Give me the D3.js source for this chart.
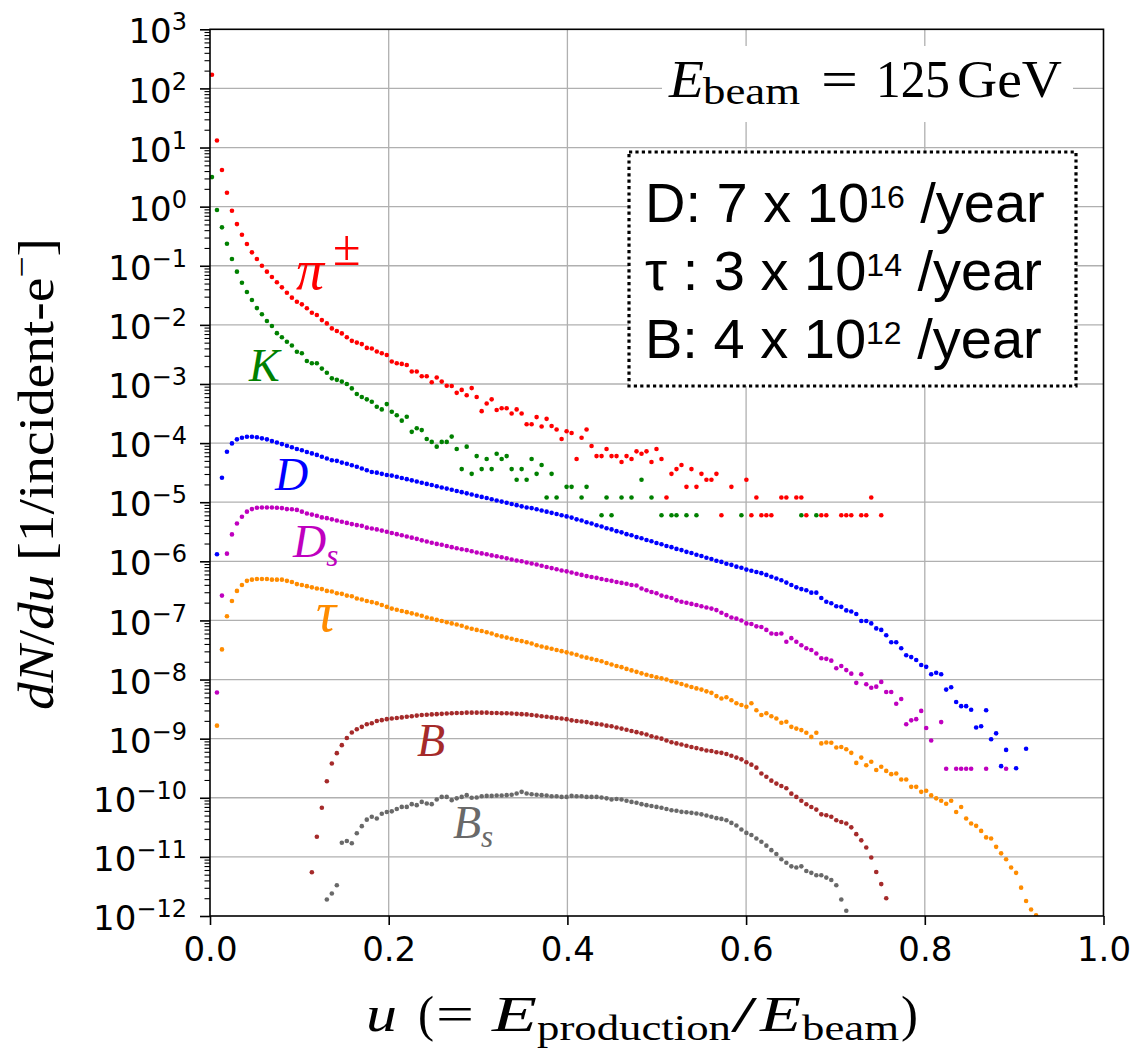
<!DOCTYPE html>
<html>
<head>
<meta charset="utf-8">
<script src="https://cdn.jsdelivr.net/npm/d3@7"></script>
<style>
  body { margin: 0; background: #fff; }
  svg { display: block; }
</style>
</head>
<body>
<svg id="chart" width="1138" height="1054"></svg>
<script>
// --- 1. Data ---
// histogram bins in u = E_production / E_beam
const binStart = 0.0022;
const binWidth = 0.00559;

// log10(dN/du) per bin, null = empty bin
const piStart = 0;
const piLog = [
  2.23, 1.12, 0.62, 0.235, -0.07, -0.295, -0.475, -0.633, -0.773, -0.887,
  -1.00, -1.10, -1.19, -1.28, -1.365, -1.457, -1.54, -1.61, -1.653, -1.72,
  -1.795, -1.834, -1.919, -1.975, -2.06, -2.105, -2.144, -2.21, -2.27, -2.30,
  -2.325, -2.39, -2.40, -2.45, -2.48, -2.51, -2.62, -2.65, -2.66, -2.68,
  -2.79, -2.79, -2.87, -2.87, -2.97, -2.89, -2.96, -3.03, -3.035, -3.15,
  -3.10, -3.19, -3.07, -3.22, -3.46, -3.33, -3.26, -3.44, -3.41, -3.41,
  -3.50, -3.43, -3.50, -3.68, -3.68, -3.56, -3.72, -3.59, -3.71, -3.77,
  -3.93, -3.80, -3.83, -4.27, -3.91, -3.77, -4.05, -4.22, -4.22, -4.10,
  -4.22, -4.22, -4.32, -4.22, -4.27, -4.14, -4.18, -4.14, -4.32, -4.10,
  -4.27, -4.92, -4.52, -4.44, -4.37, -4.74, -4.44, -4.74, -4.52, -4.62,
  -4.62, -4.52, -5.22, null, -4.74, null, null, -4.62, -5.22, -4.92,
  -5.22, -5.22, -5.22, null, -4.92, -4.92, null, -4.92, -4.92, -5.22,
  null, null, -5.22, -5.22, null, null, -5.22, -5.22, -5.22, null,
  -5.22, -5.22, -4.92, null, -5.22
];

const kStart = 0;
const kLog = [
  0.50, -0.058, -0.35, -0.628, -0.887, -1.10, -1.288, -1.445, -1.58, -1.716,
  -1.82, -1.935, -2.02, -2.14, -2.21, -2.285, -2.35, -2.455, -2.48, -2.61,
  -2.65, -2.65, -2.74, -2.81, -2.905, -2.93, -2.96, -3.00, -3.075, -3.17,
  -3.22, -3.26, -3.30, -3.385, -3.43, -3.34, -3.47, -3.53, -3.62, -3.555,
  -3.81, -3.75, -3.78, -3.93, -3.98, -4.06, -3.98, -3.98, -3.89, -4.10,
  -4.44, -4.06, -4.52, -4.22, -4.44, -4.27, -4.44, -4.18, -4.27, -4.22,
  -4.44, -4.62, -4.44, -4.62, -4.27, -4.52, -4.37, -4.92, -4.52, -4.92,
  null, -4.74, -4.74, null, -4.92, -4.74, null, null, -5.22, -4.92,
  -5.22, null, -4.92, null, -4.92, null, -4.62, null, -4.92, null,
  -5.22, null, -5.22, -5.22, null, -5.22, null, -5.22, null, null,
  null, null, null, null, null, null, -5.22, null, null, null,
  null, null, null, null, null, null, null, null, -5.22, null,
  null, -5.22
];

const dStart = 1;
const dLog = [
  -5.88, -4.587, -4.147, -4.005, -3.937, -3.91, -3.893, -3.893, -3.90, -3.92,
  -3.937, -3.966, -3.99, -4.017, -4.045, -4.07, -4.10, -4.12, -4.15, -4.174,
  -4.20, -4.23, -4.26, -4.29, -4.30, -4.33, -4.35, -4.375, -4.40, -4.43,
  -4.46, -4.49, -4.50, -4.52, -4.54, -4.55, -4.57, -4.59, -4.61, -4.63,
  -4.65, -4.67, -4.69, -4.71, -4.73, -4.75, -4.77, -4.79, -4.81, -4.83,
  -4.85, -4.87, -4.89, -4.91, -4.93, -4.95, -4.97, -4.99, -5.01, -5.03,
  -5.05, -5.07, -5.09, -5.10, -5.12, -5.14, -5.16, -5.18, -5.20, -5.22,
  -5.24, -5.26, -5.29, -5.31, -5.34, -5.36, -5.39, -5.41, -5.44, -5.46,
  -5.49, -5.51, -5.54, -5.56, -5.59, -5.61, -5.64, -5.66, -5.69, -5.71,
  -5.74, -5.76, -5.79, -5.81, -5.84, -5.86, -5.89, -5.91, -5.94, -5.96,
  -5.99, -6.01, -6.04, -6.06, -6.09, -6.11, -6.14, -6.16, -6.18, -6.20,
  -6.23, -6.26, -6.29, -6.32, -6.36, -6.40, -6.44, -6.47, -6.49, -6.53,
  -6.53, -6.62, -6.685, -6.71, -6.76, -6.77, -6.83, -6.85, -6.89, -7.01,
  -7.01, -7.05, -7.135, -7.16, -7.25, -7.37, -7.37, -7.47, -7.59, -7.62,
  -7.67, -7.755, -7.785, -7.91, -7.885, -7.91, -8.17, -8.13, -8.38, -8.45,
  -8.45, -8.51, -8.81, -8.79, -8.52, -9.01, -8.91, -9.465, -9.19, null,
  -9.50, null, -9.17
];

const dsStart = 1;
const dsLog = [
  -8.22, -6.58, -5.87, -5.545, -5.36, -5.247, -5.16, -5.117, -5.095, -5.09,
  -5.09, -5.09, -5.095, -5.10, -5.117, -5.12, -5.13, -5.16, -5.19, -5.21,
  -5.23, -5.257, -5.27, -5.29, -5.31, -5.33, -5.35, -5.37, -5.387, -5.40,
  -5.43, -5.445, -5.46, -5.48, -5.50, -5.52, -5.54, -5.56, -5.58, -5.60,
  -5.62, -5.645, -5.665, -5.687, -5.705, -5.72, -5.74, -5.76, -5.78, -5.795,
  -5.81, -5.83, -5.85, -5.866, -5.88, -5.90, -5.915, -5.93, -5.95, -5.97,
  -5.985, -6.00, -6.02, -6.036, -6.055, -6.075, -6.095, -6.115, -6.135, -6.155,
  -6.17, -6.19, -6.21, -6.23, -6.25, -6.265, -6.28, -6.30, -6.315, -6.33,
  -6.35, -6.365, -6.38, -6.40, -6.41, -6.46, -6.49, -6.52, -6.54, -6.58,
  -6.60, -6.62, -6.66, -6.685, -6.70, -6.72, -6.74, -6.76, -6.78, -6.80,
  -6.825, -6.87, -6.91, -6.95, -6.97, -7.00, -7.05, -7.06, -7.10, -7.11,
  -7.16, -7.22, -7.23, -7.22, -7.36, -7.30, -7.36, -7.42, -7.47, -7.50,
  -7.56, -7.64, -7.65, -7.68, -7.81, -7.77, -7.84, -7.90, -8.056, -7.91,
  -8.08, -8.14, -8.12, -8.04, -8.21, -8.21, -8.41, -8.33, -8.755, -8.69,
  -8.67, -8.53, -8.82, -9.03, null, -8.72, -9.51, null, -9.51, -9.51,
  -9.51, -9.51, null, null, -9.51, null, null, null, -9.51
];

const tauStart = 1;
const tauLog = [
  -8.78, -7.49, -6.93, -6.67, -6.50, -6.40, -6.33, -6.31, -6.30, -6.30,
  -6.30, -6.31, -6.31, -6.31, -6.33, -6.35, -6.385, -6.40, -6.42, -6.44,
  -6.46, -6.47, -6.50, -6.51, -6.54, -6.55, -6.58, -6.59, -6.63, -6.645,
  -6.67, -6.69, -6.71, -6.74, -6.77, -6.80, -6.82, -6.84, -6.86, -6.88,
  -6.90, -6.92, -6.95, -6.97, -6.99, -7.01, -7.03, -7.05, -7.07, -7.09,
  -7.12, -7.14, -7.16, -7.18, -7.20, -7.22, -7.25, -7.27, -7.29, -7.31,
  -7.33, -7.35, -7.37, -7.39, -7.42, -7.44, -7.46, -7.48, -7.50, -7.52,
  -7.54, -7.56, -7.58, -7.61, -7.63, -7.65, -7.67, -7.69, -7.72, -7.745,
  -7.77, -7.79, -7.82, -7.845, -7.87, -7.895, -7.92, -7.94, -7.96, -7.98,
  -8.00, -8.03, -8.05, -8.075, -8.10, -8.125, -8.15, -8.17, -8.20, -8.225,
  -8.28, -8.32, -8.30, -8.35, -8.40, -8.43, -8.46, -8.40, -8.52, -8.60,
  -8.57, -8.62, -8.66, -8.73, -8.715, -8.80, -8.83, -8.855, -8.90, -8.97,
  -8.90, -9.08, -9.065, -9.07, -9.15, -9.14, -9.18, -9.24, -9.41, -9.32,
  -9.45, -9.39, -9.53, -9.475, -9.545, -9.60, -9.59, -9.69, -9.69, -9.815,
  -9.815, -9.90, -9.88, -9.96, -10.01, -10.05, -10.10, -10.05, -10.24, -10.155,
  -10.35, -10.435, -10.475, -10.56, -10.67, -10.69, -10.83, -10.94, -11.04, -11.18,
  -11.27, -11.52, -11.745, -11.89, -11.99
];

const bStart = 20;
const bLog = [
  -11.26, -10.66, -10.17, -9.72, -9.42, -9.245, -9.11, -8.99, -8.895, -8.84,
  -8.80, -8.755, -8.74, -8.70, -8.687, -8.67, -8.66, -8.65, -8.64, -8.63,
  -8.62, -8.61, -8.60, -8.595, -8.59, -8.585, -8.58, -8.575, -8.57, -8.565,
  -8.565, -8.56, -8.56, -8.56, -8.56, -8.56, -8.565, -8.565, -8.57, -8.57,
  -8.575, -8.58, -8.585, -8.59, -8.60, -8.61, -8.62, -8.63, -8.64, -8.65,
  -8.66, -8.67, -8.69, -8.70, -8.71, -8.72, -8.74, -8.75, -8.76, -8.78,
  -8.79, -8.81, -8.83, -8.85, -8.87, -8.89, -8.91, -8.93, -8.96, -8.98,
  -9.00, -9.03, -9.06, -9.08, -9.10, -9.12, -9.14, -9.16, -9.18, -9.20,
  -9.21, -9.23, -9.24, -9.26, -9.29, -9.32, -9.35, -9.40, -9.44, -9.49,
  -9.59, -9.645, -9.71, -9.76, -9.80, -9.84, -9.93, -9.985, -10.05, -10.11,
  -10.155, -10.20, -10.28, -10.295, -10.32, -10.38, -10.41, -10.435, -10.50, -10.615,
  -10.72, -10.84, -11.01, -11.255, -11.46, -11.70
];

const bsStart = 23;
const bsLog = [
  -11.72, -11.62, -11.48, -10.76, -10.73, -10.77, -10.60, -10.48, -10.37, -10.32,
  -10.35, -10.27, -10.24, -10.23, -10.19, -10.154, -10.154, -10.108, -10.125, -10.07,
  -10.097, -10.108, -10.03, -9.985, -9.985, -10.04, -10.01, -9.985, -9.956, -10.00,
  -9.995, -9.973, -9.968, -9.968, -9.962, -9.962, -9.956, -9.95, -9.927, -9.90,
  -9.927, -9.94, -9.95, -9.956, -9.962, -9.973, -9.973, -9.985, -9.985, -9.968,
  -9.973, -9.973, -9.985, -9.985, -9.985, -9.995, -10.01, -10.03, -10.02, -10.03,
  -10.05, -10.07, -10.085, -10.108, -10.125, -10.14, -10.154, -10.17, -10.19, -10.21,
  -10.22, -10.238, -10.245, -10.255, -10.266, -10.28, -10.30, -10.32, -10.345, -10.357,
  -10.38, -10.425, -10.47, -10.536, -10.594, -10.63, -10.69, -10.745, -10.81, -10.886,
  -10.95, -11.04, -11.10, -11.16, -11.18, -11.16, -11.24, -11.27, -11.31, -11.31,
  -11.35, -11.39, -11.48, -11.72, -11.91
];

const xTicks = [0, 0.2, 0.4, 0.6, 0.8, 1.0];
const yExponents = [-12, -11, -10, -9, -8, -7, -6, -5, -4, -3, -2, -1, 0, 1, 2, 3];

const rateLines = [
  { head: "D: 7 x 10", exp: "16", tail: " /year" },
  { head: "\u03c4 : 3 x 10", exp: "14", tail: " /year" },
  { head: "B: 4 x 10", exp: "12", tail: " /year" }
];

// --- 2. Setup ---
const margin = { top: 29.3, right: 34.5, bottom: 138, left: 210 };
const W = 1138, H = 1054;
const width = W - margin.left - margin.right;
const height = H - margin.top - margin.bottom;

const svg = d3.select("#chart");
svg.append("rect").attr("width", W).attr("height", H).attr("fill", "#fff");

const g = svg.append("g").attr("transform", `translate(${margin.left},${margin.top})`);

// --- 3. Scales ---
const x = d3.scaleLinear().domain([0, 1]).range([0, width]);
const y = d3.scaleLog().domain([1e-12, 1e3]).range([height, 0]);

const series = [
  { start: piStart, logs: piLog, color: "#ff0000" },
  { start: kStart, logs: kLog, color: "#008000" },
  { start: dStart, logs: dLog, color: "#0000ff" },
  { start: dsStart, logs: dsLog, color: "#bf00bf" },
  { start: tauStart, logs: tauLog, color: "#ff8c00" },
  { start: bStart, logs: bLog, color: "#a52a2a" },
  { start: bsStart, logs: bsLog, color: "#696969" }
];

// --- 4. Grid ---
const grid = g.append("g").attr("stroke", "#b0b0b0").attr("stroke-width", 1.3);
grid.selectAll(".vg").data(xTicks.slice(1, -1)).join("line")
  .attr("x1", d => x(d)).attr("x2", d => x(d))
  .attr("y1", 0).attr("y2", height);
grid.selectAll(".hg").data(yExponents.slice(1, -1)).join("line")
  .attr("x1", 0).attr("x2", width)
  .attr("y1", d => y(Math.pow(10, d))).attr("y2", d => y(Math.pow(10, d)));

// --- 5. Points ---
svg.append("clipPath").attr("id", "plotclip")
  .append("rect").attr("x", -3).attr("y", -3).attr("width", width + 6).attr("height", height + 3);

const pts = g.append("g").attr("clip-path", "url(#plotclip)");
series.forEach(s => {
  const data = s.logs
    .map((v, i) => v === null ? null : { u: binStart + (s.start + i) * binWidth, val: Math.pow(10, v) })
    .filter(d => d);
  pts.append("g").selectAll("circle")
    .data(data)
    .join("circle")
    .attr("cx", d => x(d.u))
    .attr("cy", d => y(d.val))
    .attr("r", 2.3)
    .attr("fill", s.color);
});

// --- 6. Axes ---
const tickFont = "'DejaVu Sans', sans-serif";

const xAxis = g.append("g")
  .attr("transform", `translate(0,${height})`)
  .call(d3.axisBottom(x).tickValues(xTicks).tickFormat(d3.format(".1f")).tickSize(9).tickPadding(12));
xAxis.select(".domain").remove();
xAxis.selectAll("line").attr("stroke", "#000").attr("stroke-width", 1.6);
xAxis.selectAll("text").attr("font-family", tickFont).attr("font-size", 34).attr("fill", "#000");

const minorVals = [];
yExponents.slice(0, -1).forEach(e => {
  [2, 3, 4, 5, 6, 7, 8, 9].forEach(m => minorVals.push(m * Math.pow(10, e)));
});
const yMinor = g.append("g")
  .call(d3.axisLeft(y).tickValues(minorVals).tickFormat("").tickSize(5.5));
yMinor.select(".domain").remove();
yMinor.selectAll("line").attr("stroke", "#000").attr("stroke-width", 1.1);

const yAxis = g.append("g")
  .call(d3.axisLeft(y).tickValues(yExponents.map(e => Math.pow(10, e))).tickSize(10).tickPadding(13));
yAxis.select(".domain").remove();
yAxis.selectAll("line").attr("stroke", "#000").attr("stroke-width", 1.6);
yAxis.selectAll(".tick text")
  .attr("font-family", tickFont).attr("font-size", 34).attr("fill", "#000")
  .attr("dy", "0.4em")
  .each(function (d) {
    const e = Math.round(Math.log10(d));
    const t = d3.select(this).text(null);
    t.append("tspan").text("10");
    t.append("tspan").attr("font-size", 24).attr("dy", -13)
      .text(e < 0 ? "\u2212" + (-e) : String(e));
  });

// frame
g.append("rect").attr("width", width).attr("height", height)
  .attr("fill", "none").attr("stroke", "#000").attr("stroke-width", 1.6);

// --- 7. Curve labels ---
const serif = "'Liberation Serif', 'Times New Roman', serif";
function curveLabel(px, py, color, size, main, sub, sup, supSize) {
  const t = g.append("text")
    .attr("x", px - margin.left).attr("y", py - margin.top)
    .attr("fill", color).attr("font-family", serif)
    .attr("font-style", "italic").attr("font-size", size);
  t.append("tspan").text(main);
  if (sub) t.append("tspan").attr("font-size", size * 0.68).attr("dy", size * 0.2).text(sub);
  if (sup) t.append("tspan").attr("font-style", "normal").attr("font-size", supSize)
    .attr("dx", 9).attr("dy", -size * 0.43).text(sup);
}
curveLabel(296, 289, "#ff0000", 56, "\u03c0", null, "\u00b1", 50);
curveLabel(249, 381, "#008000", 46, "K");
curveLabel(275, 490, "#0000ff", 46, "D");
curveLabel(293, 557, "#bf00bf", 46, "D", "s");
curveLabel(316, 631, "#ff8c00", 56, "\u03c4");
curveLabel(417, 756, "#a52a2a", 46, "B");
curveLabel(453, 838, "#696969", 46, "B", "s");

// text pieces stretched to the widths seen in the figure
function piece(parent, txt, px, py, len, size, italic) {
  parent.append("text")
    .attr("x", px).attr("y", py)
    .attr("font-size", size)
    .attr("font-style", italic ? "italic" : "normal")
    .attr("textLength", len).attr("lengthAdjust", "spacingAndGlyphs")
    .text(txt);
}

// --- 8. Beam energy note ---
svg.append("rect").attr("x", 662).attr("y", 46).attr("width", 411).attr("height", 76).attr("fill", "#fff");
const beam = svg.append("g").attr("font-family", serif).attr("fill", "#000");
piece(beam, "E", 669, 97, 35, 52, true);
piece(beam, "beam", 703, 104, 97, 37, false);
piece(beam, "=", 821, 97, 37, 52, false);
piece(beam, "125", 876, 97, 74, 52, false);
piece(beam, "GeV", 957, 97, 105, 52, false);

// --- 9. Yield box ---
svg.append("rect").attr("x", 629).attr("y", 152).attr("width", 447).attr("height", 234)
  .attr("fill", "#fff").attr("stroke", "#000").attr("stroke-width", 3.2)
  .attr("stroke-dasharray", "3.2,3.2");
rateLines.forEach((r, i) => {
  const t = svg.append("text").attr("x", 645).attr("y", 221.7 + i * 68.3)
    .attr("font-family", "'Liberation Sans', Arial, sans-serif").attr("font-size", 56).attr("fill", "#000");
  t.append("tspan").text(r.head);
  t.append("tspan").attr("font-size", 32).attr("dy", -14).text(r.exp);
  t.append("tspan").attr("dy", 14).text(r.tail);
});

// --- 10. Axis titles ---
const xl = svg.append("g").attr("font-family", serif).attr("fill", "#000");
piece(xl, "u", 366, 1031, 31, 50, true);
piece(xl, "(", 418, 1031, 16, 50, false);
piece(xl, "=", 436, 1031, 38, 50, false);
piece(xl, "E", 492, 1031, 45, 50, true);
piece(xl, "production", 537, 1040, 194, 36, false);
piece(xl, "/", 731, 1031, 26, 50, false);
piece(xl, "E", 760, 1031, 41, 50, true);
piece(xl, "beam", 802, 1040, 97, 36, false);
piece(xl, ")", 901, 1031, 17, 50, false);

const yl = svg.append("text")
  .attr("transform", "translate(53,474) rotate(-90)")
  .attr("text-anchor", "middle")
  .attr("font-family", serif).attr("font-size", 50).attr("fill", "#000")
  .attr("textLength", 472).attr("lengthAdjust", "spacingAndGlyphs");
yl.append("tspan").attr("font-style", "italic").text("dN");
yl.append("tspan").text("/");
yl.append("tspan").attr("font-style", "italic").text("du");
yl.append("tspan").text(" [1/incident-e");
yl.append("tspan").attr("font-size", 34).attr("dy", -20).text("\u2212");
yl.append("tspan").attr("dy", 20).text("]");
</script>
</body>
</html>
